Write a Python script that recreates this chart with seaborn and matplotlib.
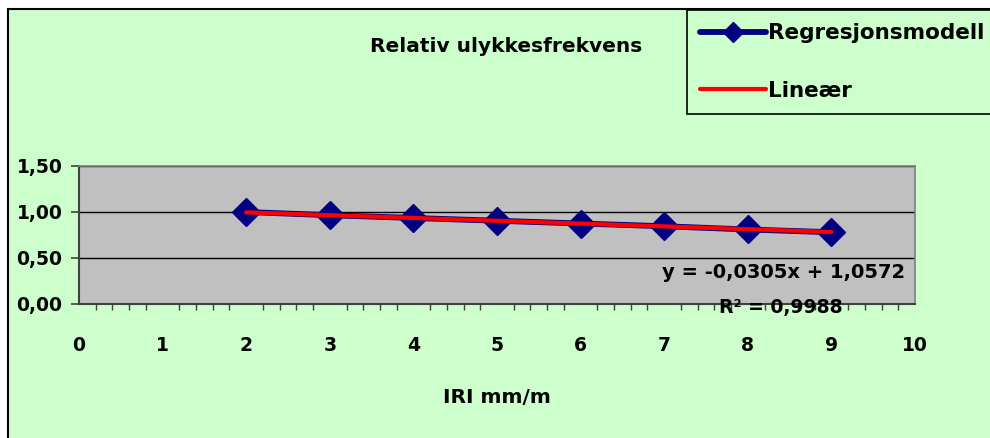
import matplotlib
matplotlib.use("Agg")
import matplotlib.pyplot as plt
from matplotlib.patches import Rectangle
from matplotlib.ticker import MultipleLocator, FuncFormatter
import seaborn as sns
import pandas as pd
import numpy as np

# ---- data ----
iri = [2, 3, 4, 5, 6, 7, 8, 9]
relativ = [1.00, 0.965, 0.935, 0.905, 0.875, 0.845, 0.81, 0.78]
trend_slope = -0.0305
trend_intercept = 1.0572
trend_r2 = 0.9988
trend_x = [2, 9]
series_names = ["Regresjonsmodell", "Lineær"]
title = "Relativ ulykkesfrekvens"
xlabel = "IRI mm/m"
yticks = [0.0, 0.5, 1.0, 1.5]
xticks = list(range(0, 11))

sns.set_style("white")
plt.rcParams["font.family"] = ["DejaVu Sans"]
plt.rcParams["font.weight"] = "bold"
plt.rcParams["text.color"] = "black"
plt.rcParams["xtick.color"] = "black"
plt.rcParams["ytick.color"] = "black"
plt.rcParams["axes.labelcolor"] = "black"

W, H = 990, 438
fig = plt.figure(figsize=(W / 100, H / 100), dpi=100)
fig.patch.set_facecolor("white")

# chart area background
fig.patches.append(Rectangle((8 / W, -0.05), 1.2, (H - 9) / H + 0.05,
                             transform=fig.transFigure, facecolor="#CCFFCC",
                             edgecolor="black", linewidth=1.5, zorder=-10))

ax = fig.add_axes([79 / W, (H - 304) / H, 836 / W, 138 / H])
ax.set_zorder(1)
ax.set_facecolor("#C0C0C0")

df = pd.DataFrame({"IRI": iri, "Rel": relativ})
trend_df = pd.DataFrame({"IRI": trend_x,
                         "Rel": [trend_slope * x + trend_intercept for x in trend_x]})

sns.lineplot(data=df, x="IRI", y="Rel", ax=ax, color="#000080", linewidth=4.2,
             marker="D", markersize=14, markeredgecolor="#000080",
             markeredgewidth=1, label=series_names[0], zorder=3)
sns.lineplot(data=trend_df, x="IRI", y="Rel", ax=ax, color="#FF0000",
             linewidth=3.0, label=series_names[1], zorder=4)
for ln in ax.lines:
    ln.set_solid_capstyle("round")

ax.set_xlim(0, 10)
ax.set_ylim(0, 1.5)
ax.set_yticks(yticks)
ax.set_xticks(xticks)
ax.xaxis.set_minor_locator(MultipleLocator(0.2))
ax.yaxis.set_major_formatter(FuncFormatter(lambda v, p: f"{v:.2f}".replace(".", ",")))
ax.grid(axis="y", color="black", linewidth=1)
ax.set_axisbelow(True)

for s in ["top", "right"]:
    ax.spines[s].set_color("#808080")
    ax.spines[s].set_linewidth(1.2)
for s in ["left", "bottom"]:
    ax.spines[s].set_color("#404040")
    ax.spines[s].set_linewidth(1.5)

ax.tick_params(axis="x", which="major", direction="out", length=6, width=1.2,
               color="#404040", labelcolor="black", pad=17, labelsize=13.5)
ax.tick_params(axis="x", which="minor", direction="out", length=4, width=1,
               color="#404040", bottom=True)
ax.tick_params(axis="y", which="major", direction="out", length=6, width=1.2,
               color="#404040", labelcolor="black", pad=6, labelsize=13.5, left=True)
for lab in ax.get_xticklabels() + ax.get_yticklabels():
    lab.set_fontweight("bold")

ax.set_xlabel(xlabel, fontsize=14.5, fontweight="bold", labelpad=24, color="black")
ax.set_ylabel("")

fig.text(506 / W, 1 - 47 / H, title, ha="center", va="center",
         fontsize=14.5, fontweight="bold", color="black")

eq = f"y = {trend_slope:.4f}x + {trend_intercept:.4f}".replace(".", ",")
fig.text(905 / W, 1 - 272 / H, eq, ha="right", va="center",
         fontsize=14, fontweight="bold", color="black", zorder=10)
fig.text(781 / W, 1 - 308 / H, f"R² = {trend_r2:.4f}".replace(".", ","),
         ha="center", va="center", fontsize=13.5, fontweight="bold",
         color="black", zorder=10)

leg = ax.legend(loc="upper left", bbox_to_anchor=(687 / W, 1 - 10 / H),
                bbox_transform=fig.transFigure, borderaxespad=0, fontsize=15.5,
                frameon=True, fancybox=False, facecolor="#CCFFCC",
                edgecolor="black", framealpha=1, handlelength=3.05,
                handletextpad=0.1, labelspacing=1.75, borderpad=0.62,
                markerscale=0.7)
leg.get_frame().set_linewidth(1.2)
for t in leg.get_texts():
    t.set_fontweight("bold")
    t.set_color("black")

fig.savefig("out.png", dpi=100)
